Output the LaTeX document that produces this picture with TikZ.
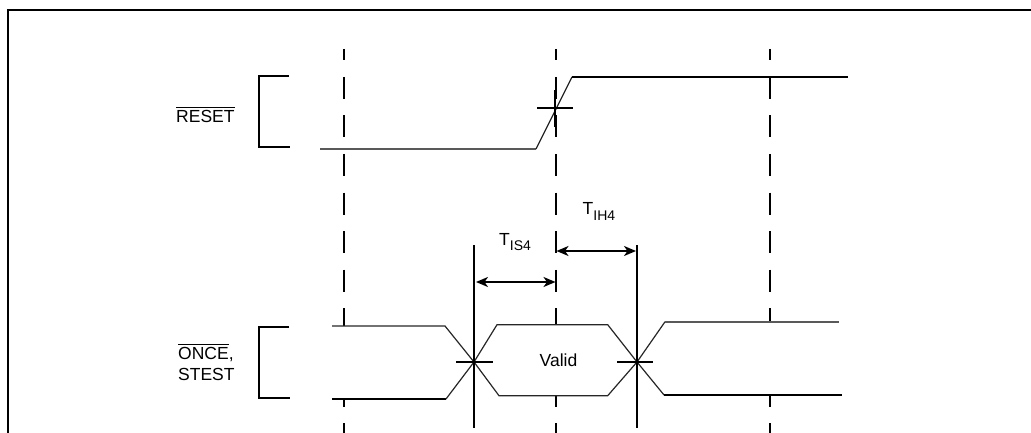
\documentclass[tikz,border=0pt]{standalone}
\usepackage{fontspec}
\setmainfont{Liberation Sans}
\usetikzlibrary{arrows.meta}
\newcommand\ovl[2]{\setbox0\hbox{#1}\rlap{\rule[#2]{\wd0}{0.9pt}}\box0}
\newcommand\subl[1]{\raisebox{-5.7pt}{\fontsize{14}{14}\selectfont #1}}
\tikzset{
  x=1pt,y=-1pt,
  frame/.style={line width=2pt,black},
  brace/.style={line width=2pt,black},
  sig/.style={line width=1.2pt,black!85},
  siggray/.style={line width=1.6pt,black!65},
  sigth/.style={line width=2pt,black},
  guide/.style={line width=2pt,black,dash pattern=on 22pt off 16.5pt},
  solidv/.style={line width=2pt,black},
  cross/.style={line width=2pt,black},
  dim/.style={line width=2pt,black,{Stealth[length=12pt,width=10pt,inset=3.5pt]}-{Stealth[length=12pt,width=10pt,inset=3.5pt]}},
  lab/.style={font=\fontsize{17.5}{21}\selectfont,inner sep=0pt,align=left},
}
\begin{document}
\begin{tikzpicture}
\useasboundingbox (0,0) rectangle (1031,433);
\draw[frame] (8,433) -- (8,10) -- (1031,10);
% guides, hidden behind the lower signal band
\foreach \x/\e/\s in {344/326/399,556/324/396,770/322/395}{
  \pgfmathsetmacro{\ph}{mod(\s-346,38.5)}
  \draw[guide,dash phase=10.5pt] (\x,49) -- (\x,\e);
  \draw[guide,dash phase=\ph pt] (\x,\s) -- (\x,433);
}
% reset
\node[lab,anchor=base west] (rst) at (176,122.5) {\ovl{RESET}{14.5pt}};
\draw[brace] (289,76) -- (259,76) -- (259,147) -- (290,147);
\draw[siggray] (320,149) -- (536,149);
\draw[sig] (536,149) -- (572,77);
\draw[sigth] (572,77) -- (848,77);
\coordinate (cr) at (555,108);
\draw[cross] ([xshift=-18pt]cr) -- ([xshift=18pt]cr);
\draw[solidv] (555,90) -- (555,127);
% once
\node[lab,anchor=base west] (onc) at (178,380) {\ovl{ONCE}{14.5pt},\\STEST};
\draw[brace] (289,327) -- (259,327) -- (259,398) -- (290,398);
\coordinate (a) at (474,362);
\coordinate (b) at (637,362);
\draw[sig] (332,326) -- (445,326) -- (a) -- (499,395.7) -- (607.7,395.7) -- (b) -- (665,321.8);
\draw[siggray] (665,321.8) -- (839,321.8);
\draw[sigth] (332,399) -- (446,399);
\draw[sig] (446,399) -- (a) -- (497,324.7) -- (607.7,324.7) -- (b) -- (664,395);
\draw[sigth] (664,395) -- (842,395);
\draw[cross] (456,362) -- (a) -- (493,362);
\draw[cross] (617,362) -- (b) -- (653,362);
\coordinate (at) at (474,245);
\coordinate (ab) at (474,428);
\coordinate (bt) at (637,245);
\coordinate (bb) at (637,428);
\draw[solidv] (at) -- (ab);
\draw[solidv] (bt) -- (bb);
\node[lab,anchor=base] (v) at (558.5,366) {Valid};
\coordinate (m1) at (555.5,282);
\coordinate (m2) at (556.5,251);
\coordinate (n1) at (476,282);
\coordinate (n2) at (636,251);
\draw[dim] (n1) -- (m1);
\draw[dim] (m2) -- (n2);
\node[lab,anchor=base west] (ti) at (499,245) {T\subl{IS4}};
\node[lab,anchor=base west] (th) at (582.5,214.5) {T\subl{IH4}};
\end{tikzpicture}
\end{document}
